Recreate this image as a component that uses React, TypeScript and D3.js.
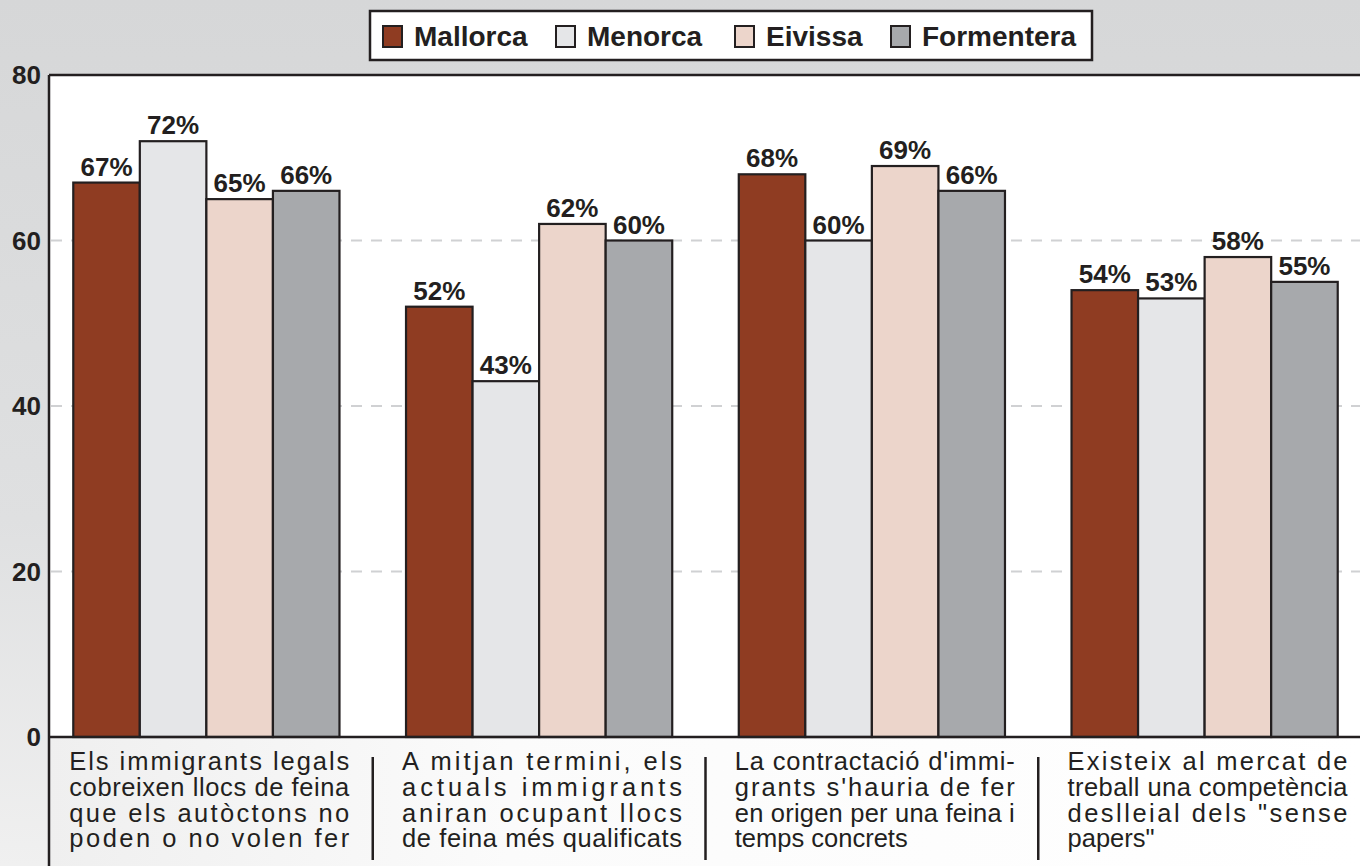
import React from "react";
import * as d3 from "d3";

const islands = ["Mallorca", "Menorca", "Eivissa", "Formentera"];
const colors = ["#8f3c22", "#e5e6e8", "#ecd5cb", "#a7a9ac"];
const mallorca = [67, 52, 68, 54];
const menorca = [72, 43, 60, 53];
const eivissa = [65, 62, 69, 58];
const formentera = [66, 60, 66, 55];
const seriesValues = [mallorca, menorca, eivissa, formentera];
const yTicks = [0, 20, 40, 60, 80];
const categoryLines = [
  ["Els immigrants legals", "cobreixen llocs de feina", "que els autòctons no", "poden o no volen fer"],
  ["A mitjan termini, els", "actuals immigrants", "aniran ocupant llocs", "de feina més qualificats"],
  ["La contractació d'immi-", "grants s'hauria de fer", "en origen per una feina i", "temps concrets"],
  ["Existeix al mercat de", "treball una competència", "deslleial dels \"sense", "papers\""],
];
const justifyLast = [true, true, false, false];

const W = 1360;
const H = 866;
const plotLeft = 49;
const plotTop = 75;
const baseY = 737;
const ink = "#231f20";
const font = "'Liberation Sans', Arial, Helvetica, sans-serif";

export default function App() {
  const cats = d3.range(categoryLines.length).map(String);
  const x0 = d3.scaleBand<string>().domain(cats).range([40, 1371]).paddingInner(0.2).paddingOuter(0.1);
  const x1 = d3.scaleBand<string>().domain(islands).range([0, x0.bandwidth()]);
  const y = d3.scaleLinear().domain([0, 80]).range([baseY, plotTop]);
  const gapHalf = (x0.step() - x0.bandwidth()) / 2;

  return (
    <svg width={W} height={H} style={{ position: "absolute", left: 0, top: 0 }} fontFamily={font}>
      <defs>
        <linearGradient id="bg" x1="0" y1="0" x2="0" y2="1">
          <stop offset="0" stopColor="#d6d7d8" />
          <stop offset="0.6" stopColor="#dfe0e1" />
          <stop offset="1" stopColor="#f0f0f0" />
        </linearGradient>
        <linearGradient id="bottom" x1="0" y1="0" x2="1" y2="0">
          <stop offset="0" stopColor="#efefef" />
          <stop offset="0.35" stopColor="#fbfbfb" />
          <stop offset="1" stopColor="#ffffff" />
        </linearGradient>
      </defs>
      <rect x={0} y={0} width={W} height={H} fill="url(#bg)" />
      <rect x={plotLeft} y={plotTop} width={W - plotLeft} height={baseY - plotTop} fill="#ffffff" />
      <rect x={plotLeft} y={baseY} width={W - plotLeft} height={H - baseY} fill="url(#bottom)" />
      {yTicks.filter((t) => t > 0 && t < 80).map((t) => (
        <line key={t} x1={plotLeft + 2} x2={W} y1={y(t)} y2={y(t)} stroke="#d0d1d3" strokeWidth={2} strokeDasharray="11 9" />
      ))}
      <line x1={plotLeft} x2={W} y1={plotTop} y2={plotTop} stroke={ink} strokeWidth={2.5} />
      <line x1={plotLeft} x2={plotLeft} y1={plotTop} y2={H} stroke={ink} strokeWidth={2.5} />
      {cats.map((c, ci) => (
        <g key={c} transform={`translate(${x0(c)},0)`}>
          {islands.map((isl, si) => {
            const v = seriesValues[si][ci];
            const bx = x1(isl)!;
            return (
              <g key={isl}>
                <rect x={bx} y={y(v)} width={x1.bandwidth()} height={baseY - y(v)} fill={colors[si]} stroke={ink} strokeWidth={2.2} />
                <text x={bx + x1.bandwidth() / 2} y={y(v) - 7} textAnchor="middle" fontSize={26} fontWeight="bold" fill={ink}>
                  {`${v}%`}
                </text>
              </g>
            );
          })}
        </g>
      ))}
      <line x1={plotLeft} x2={W} y1={baseY} y2={baseY} stroke={ink} strokeWidth={2.5} />
      {yTicks.map((t) => (
        <text key={t} x={41} y={y(t) + 9} textAnchor="end" fontSize={26} fontWeight="bold" fill={ink}>
          {t}
        </text>
      ))}
      {cats.map((c, ci) => {
        const lx = x0(c)! - 4;
        return (
          <g key={c}>
            {categoryLines[ci].map((ln, li) => {
              const last = li === categoryLines[ci].length - 1;
              const just = !last || justifyLast[ci];
              return (
                <text key={li} x={lx} y={770 + li * 25.8} fontSize={25.5} fill={ink}
                  {...(just ? { textLength: 280, lengthAdjust: "spacing" } : {})}>
                  {ln}
                </text>
              );
            })}
          </g>
        );
      })}
      {cats.slice(1).map((c) => (
        <line key={c} x1={x0(c)! - gapHalf} x2={x0(c)! - gapHalf} y1={757} y2={860} stroke={ink} strokeWidth={2.5} />
      ))}
      <rect x={370} y={11} width={722} height={49} fill="#ffffff" stroke={ink} strokeWidth={2.5} />
      {islands.map((isl, i) => {
        const sx = [383, 556, 735, 891][i];
        return (
          <g key={isl}>
            <rect x={sx} y={26} width={19} height={21} fill={colors[i]} stroke={ink} strokeWidth={2} />
            <text x={sx + 31} y={46} fontSize={28} fontWeight="bold" fill={ink}>
              {isl}
            </text>
          </g>
        );
      })}
    </svg>
  );
}
